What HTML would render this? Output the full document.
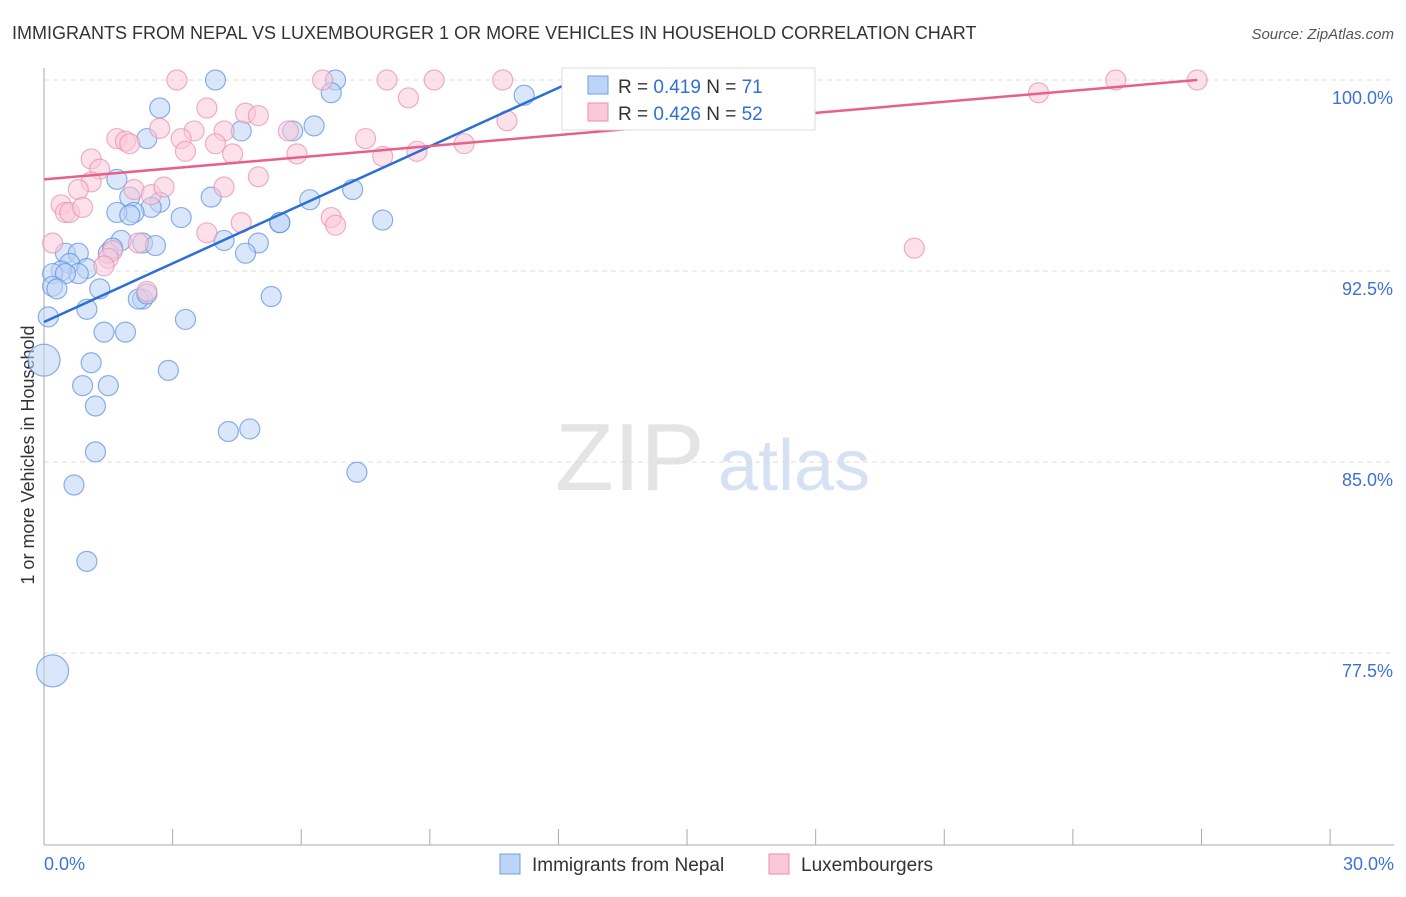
<!DOCTYPE html>
<html><head><meta charset="utf-8"><style>
body{margin:0;background:#fff;font-family:"Liberation Sans",sans-serif;}
svg text{font-family:"Liberation Sans",sans-serif;}
</style></head><body>
<svg width="1406" height="892" id="chart">
<text x="12" y="39" font-size="18" fill="#333">IMMIGRANTS FROM NEPAL VS LUXEMBOURGER 1 OR MORE VEHICLES IN HOUSEHOLD CORRELATION CHART</text>
<text x="1394" y="39" font-size="15" fill="#555" font-style="italic" text-anchor="end">Source: ZipAtlas.com</text>
<text x="0" y="0" transform="translate(34,455) rotate(-90)" font-size="18" fill="#333" text-anchor="middle">1 or more Vehicles in Household</text>
<text x="555" y="490" font-size="96" fill="#e4e4e4" font-family="Liberation Serif">ZIP</text>
<text x="718" y="490" font-size="72" fill="#d6e2f3">atlas</text>
<g id="grid"></g><g id="axes"></g><g id="pts"></g><g id="lines"></g>
<g>
<rect x="562" y="68" width="253" height="62" fill="#fff" stroke="#ddd"/>
<rect x="588" y="76" width="20" height="18" fill="#bcd4f5" stroke="#6f9fe0"/>
<text x="618" y="93" font-size="19" fill="#333">R = <tspan fill="#2f6fd6">0.419</tspan>   N = <tspan fill="#2f6fd6">71</tspan></text>
<rect x="588" y="103" width="20" height="18" fill="#f9c9d8" stroke="#e98fac"/>
<text x="618" y="120" font-size="19" fill="#333">R = <tspan fill="#2f6fd6">0.426</tspan>   N = <tspan fill="#2f6fd6">52</tspan></text>
</g>
<g>
<rect x="500" y="854" width="20" height="20" fill="#bcd4f5" stroke="#6f9fe0"/>
<text x="532" y="871" font-size="19" fill="#333">Immigrants from Nepal</text>
<rect x="769" y="854" width="20" height="20" fill="#f9c9d8" stroke="#e98fac"/>
<text x="801" y="871" font-size="19" fill="#333">Luxembourgers</text>
</g>
</svg>
<script>
const yTicks=[100,92.5,85,77.5];
const yTickLabels=["100.0%","92.5%","85.0%","77.5%"];
const xTickLabels=["0.0%","30.0%"];
const nepalX=[4.0,6.8,6.7,11.2,2.7,2.4,4.6,5.8,6.3,1.7,3.9,7.2,6.2,2.0,2.7,2.5,2.1,1.7,2.0,3.2,5.5,5.5,7.9,1.8,2.3,2.6,4.2,5.0,4.7,1.5,1.6,0.5,0.8,0.6,1.0,0.8,0.4,0.2,0.5,0.2,0.3,1.3,2.3,2.2,2.4,5.3,1.0,3.3,1.4,1.9,0.1,0.0,1.1,2.9,0.9,1.5,1.2,4.3,4.8,1.2,7.3,0.7,1.0,0.2];
const nepalY=[100.0,100.0,99.5,99.4,98.9,97.7,98.0,98.0,98.2,96.1,95.4,95.7,95.3,95.4,95.2,95.0,94.8,94.8,94.7,94.6,94.4,94.4,94.5,93.7,93.6,93.5,93.7,93.6,93.2,93.2,93.4,93.2,93.2,92.8,92.6,92.4,92.5,92.4,92.4,91.9,91.8,91.8,91.4,91.4,91.6,91.5,91.0,90.6,90.1,90.1,90.7,89.0,88.9,88.6,88.0,88.0,87.2,86.2,86.3,85.4,84.6,84.1,81.1,76.8];
const luxX=[3.1,6.5,8.0,9.1,10.7,25.0,26.9,3.8,4.7,5.0,8.5,23.2,5.7,3.5,2.7,4.2,1.7,1.9,2.0,3.2,4.0,3.3,4.4,7.5,5.9,7.9,8.7,9.8,10.8,1.1,1.3,1.1,0.8,2.1,2.5,2.8,0.4,0.5,0.6,0.9,5.0,4.2,0.2,3.8,4.6,6.7,6.8,1.6,1.5,2.2,2.4,1.4,20.3];
const luxY=[100.0,100.0,100.0,100.0,100.0,100.0,100.0,98.9,98.7,98.6,99.3,99.5,98.0,98.0,98.1,98.0,97.7,97.6,97.5,97.7,97.5,97.2,97.1,97.7,97.1,97.0,97.2,97.5,98.4,96.9,96.5,96.0,95.7,95.7,95.5,95.8,95.1,94.8,94.8,95.0,96.2,95.8,93.6,94.0,94.4,94.6,94.3,93.3,93.0,93.6,91.7,92.7,93.4];
const nepalTrend=[[0,90.5],[12.4,100]];
const luxTrend=[[0,96.1],[26.9,100]];
const X=v=>44+v*42.87, Y=v=>80+(100-v)*25.47;
const NS="http://www.w3.org/2000/svg";
function mk(t,a,p){const e=document.createElementNS(NS,t);for(const k in a)e.setAttribute(k,a[k]);p.appendChild(e);return e;}
const grid=document.getElementById('grid'),axes=document.getElementById('axes'),pts=document.getElementById('pts'),lines=document.getElementById('lines');
yTicks.forEach((t,i)=>{
 const l=mk('line',{x1:44,x2:1394,y1:Y(t),y2:Y(t),stroke:'#ddd','stroke-dasharray':'5,4'},grid);
 
 
 const tx=mk('text',{x:1393,y:Y(t)+24,'font-size':18,fill:'#3d72d4','text-anchor':'end'},axes);
 tx.textContent=yTickLabels[i];
 
 
});
const ya=mk('line',{x1:44,x2:44,y1:68,y2:845,stroke:'#aaa'},axes);


const xa=mk('line',{x1:44,x2:1394,y1:845,y2:845,stroke:'#aaa'},axes);


for(let i=1;i<=10;i++){const t=mk('line',{x1:X(i*3),x2:X(i*3),y1:829,y2:845,stroke:'#aaa'},axes);
 
 }
[[0,'start',44],[30,'end',1394]].forEach((d,i)=>{const t=mk('text',{x:d[2],y:870,'font-size':18,fill:'#3d72d4','text-anchor':d[1]},axes);t.textContent=xTickLabels[i];
 
 });
function dots(xs,ys,fill,stroke,name){xs.forEach((x,i)=>{const r=(name==='nepal-point'&&(i===51||i===63))?16:10;
 const c=mk('circle',{cx:X(x),cy:Y(ys[i]),r:r,fill:fill,'fill-opacity':0.55,stroke:stroke,'stroke-opacity':0.7,'stroke-width':1.2},pts);
 
 });}
dots(nepalX,nepalY,'#bcd4f5','#5b8fe0','nepal-point');
dots(luxX,luxY,'#f9c9d8','#e98fac','luxembourger-point');
const t1=mk('line',{x1:X(nepalTrend[0][0]),y1:Y(nepalTrend[0][1]),x2:X(nepalTrend[1][0]),y2:Y(nepalTrend[1][1]),stroke:'#2a6fd6','stroke-width':2.5},lines);


const t2=mk('line',{x1:X(luxTrend[0][0]),y1:Y(luxTrend[0][1]),x2:X(luxTrend[1][0]),y2:Y(luxTrend[1][1]),stroke:'#e8608a','stroke-width':2.5},lines);


</script>
</body></html>
